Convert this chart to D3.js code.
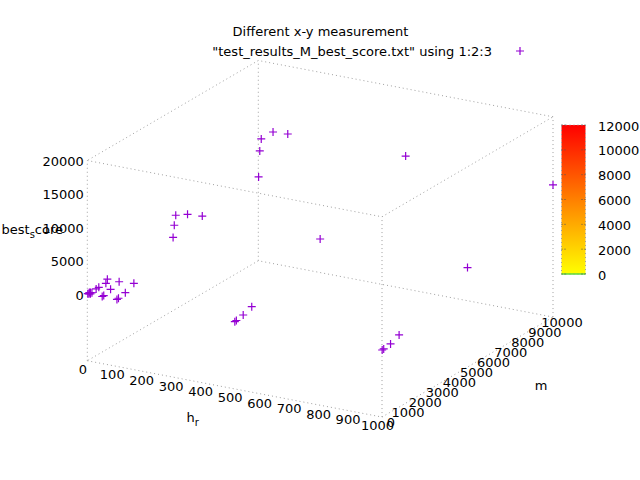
<!DOCTYPE html>
<html>
<head>
<meta charset="utf-8">
<script src="https://cdn.jsdelivr.net/npm/d3@7"></script>
<style>
  body { margin: 0; background: #fff; }
  text { font-family: "DejaVu Sans", sans-serif; font-size: 13px; fill: #000; }
</style>
</head>
<body>
<script>
// columns of test_results_M_best_score.txt (1:2:3)
const hR = [1, 1, 5, 5, 10, 10, 50, 50, 100, 100, 100, 100, 50, 50, 10, 5, 10, 1,
            500, 500, 500, 500, 1000, 1000, 1000, 1000,
            1, 5, 10, 50, 100, 500, 1000,
            1, 5, 10, 50, 100, 500, 1000];
const mVals = [10, 100, 10, 100, 10, 100, 10, 100, 10, 100, 500, 1000, 500, 1000, 1000, 1000, 500, 500,
               10, 100, 500, 1000, 10, 100, 500, 1000,
               5000, 5000, 5000, 5000, 5000, 5000, 5000,
               10000, 10000, 10000, 10000, 10000, 10000, 10000];
const bestScore = [40, 80, 60, 100, 90, 120, 30, 40, 20, 60, 290, 940, 370, 760, 800, 150, 340, 20,
                   50, 100, 320, 820, 30, 50, 200, 800,
                   1000, 2850, 4390, 4870, 5030, 4970, 4900,
                   2560, 6490, 8330, 9710, 9830, 9900, 9800];

const xTicks = [0, 100, 200, 300, 400, 500, 600, 700, 800, 900, 1000];
const yTicks = [0, 1000, 2000, 3000, 4000, 5000, 6000, 7000, 8000, 9000, 10000];
const zTicks = [0, 5000, 10000, 15000, 20000];
const cbTicks = [0, 2000, 4000, 6000, 8000, 10000, 12000];

const width = 640, height = 480;
const purple = "#9400d3";
const grid = "#a0a0a0";

const svg = d3.select("body").append("svg")
  .attr("width", width).attr("height", height);

// data -> unit cube
const x = d3.scaleLinear().domain([0, 1000]).range([0, 1]);
const y = d3.scaleLinear().domain([0, 10000]).range([0, 1]);
const z = d3.scaleLinear().domain([0, 20000]).range([0, 1]);
const zBase = -0.5; // ticslevel

// unit cube -> screen (view 60,30)
const origin = [87.3, 294];
const ex = [294.7, 56.3], ey = [171, -100], ez = [0, -133.5];
function project(u, v, w) {
  return [origin[0] + u * ex[0] + v * ey[0] + w * ez[0],
          origin[1] + u * ex[1] + v * ey[1] + w * ez[1]];
}

// box edges
const corners = [[0, 0], [1, 0], [1, 1], [0, 1]];
const edges = [];
for (let i = 0; i < 4; i++) {
  const a = corners[i], b = corners[(i + 1) % 4];
  edges.push([project(a[0], a[1], zBase), project(b[0], b[1], zBase)]);
  edges.push([project(a[0], a[1], 1), project(b[0], b[1], 1)]);
  edges.push([project(a[0], a[1], zBase), project(a[0], a[1], 1)]);
}
svg.append("g").selectAll("line").data(edges).join("line")
  .attr("x1", d => d[0][0]).attr("y1", d => d[0][1])
  .attr("x2", d => d[1][0]).attr("y2", d => d[1][1])
  .attr("stroke", grid).attr("stroke-width", 1)
  .attr("stroke-dasharray", "1,3");

// x tick labels
svg.append("g").selectAll("text").data(xTicks).join("text")
  .attr("x", d => project(x(d), 0, zBase)[0] - 4.5)
  .attr("y", d => project(x(d), 0, zBase)[1] + 8.5)
  .attr("text-anchor", "middle").attr("dy", "0.35em")
  .text(d => d);

// y tick labels
svg.append("g").selectAll("text").data(yTicks).join("text")
  .attr("x", d => project(1, y(d), zBase)[0] + 9)
  .attr("y", d => project(1, y(d), zBase)[1] + 5.5)
  .attr("text-anchor", "middle").attr("dy", "0.35em")
  .text(d => d);

// z tick labels
svg.append("g").selectAll("text").data(zTicks).join("text")
  .attr("x", d => project(0, 0, z(d))[0] - 3.5)
  .attr("y", d => project(0, 0, z(d))[1] + 1)
  .attr("text-anchor", "end").attr("dy", "0.35em")
  .text(d => d);

// axis labels (enhanced text: underscore -> subscript)
const hl = svg.append("text").attr("x", 186.5).attr("y", 417).attr("dy", "0.35em");
hl.append("tspan").text("h");
hl.append("tspan").attr("dy", "4").attr("font-size", "10px").text("r");

svg.append("text").attr("x", 541).attr("y", 385).attr("dy", "0.35em")
  .attr("text-anchor", "middle").text("m");

const zl = svg.append("text").attr("x", 1.5).attr("y", 229).attr("dy", "0.35em");
zl.append("tspan").text("best");
zl.append("tspan").attr("dy", "4").attr("font-size", "10px").text("s");
zl.append("tspan").attr("dy", "-4").text("core");

// title and key
svg.append("text").attr("x", 320.5).attr("y", 31).attr("dy", "0.35em")
  .attr("text-anchor", "middle").text("Different x-y measurement");
svg.append("text").attr("x", 492).attr("y", 51).attr("dy", "0.35em")
  .attr("text-anchor", "end")
  .text("\"test_results_M_best_score.txt\" using 1:2:3");

function plus(sel, s) {
  sel.append("path")
    .attr("d", `M${-s},0H${s}M0,${-s}V${s}`)
    .attr("stroke", purple).attr("stroke-width", 1.2).attr("fill", "none");
}
svg.append("g").attr("transform", "translate(520,51)").call(plus, 4);

// points
const rows = d3.range(hR.length).map(i => [hR[i], mVals[i], bestScore[i]]);
svg.append("g").selectAll("g").data(rows).join("g")
  .attr("transform", d => {
    const p = project(x(d[0]), y(d[1]), z(d[2]));
    return `translate(${p[0]},${p[1]})`;
  })
  .each(function () { d3.select(this).call(plus, 4); });

// colour box
const cb = d3.scaleLinear().domain([0, 12000]).range([274, 125]);
const cbX = 561.5, cbW = 24;
const grad = svg.append("defs").append("linearGradient")
  .attr("id", "pal").attr("x1", 0).attr("y1", 1).attr("x2", 0).attr("y2", 0);
grad.append("stop").attr("offset", 0).attr("stop-color", "#ffff00");
grad.append("stop").attr("offset", 0.5).attr("stop-color", "#ff8000");
grad.append("stop").attr("offset", 1).attr("stop-color", "#ff0000");
svg.append("rect").attr("x", cbX).attr("y", cb(12000))
  .attr("width", cbW).attr("height", cb(0) - cb(12000))
  .attr("fill", "url(#pal)")
  .attr("stroke", grid).attr("stroke-width", 1).attr("stroke-dasharray", "1,3");
svg.append("line").attr("x1", cbX).attr("x2", cbX + cbW)
  .attr("y1", cb(0)).attr("y2", cb(0))
  .attr("stroke", "#5fd83c").attr("stroke-width", 1.5);
svg.append("g").selectAll("path").data(cbTicks).join("path")
  .attr("d", d => `M${cbX},${cb(d)}h4M${cbX + cbW},${cb(d)}h-4`)
  .attr("stroke", "#555").attr("stroke-width", 1).attr("stroke-dasharray", "1,2");
svg.append("g").selectAll("text").data(cbTicks).join("text")
  .attr("x", 598).attr("y", d => cb(d) + 1).attr("dy", "0.35em")
  .text(d => d);
</script>
</body>
</html>
